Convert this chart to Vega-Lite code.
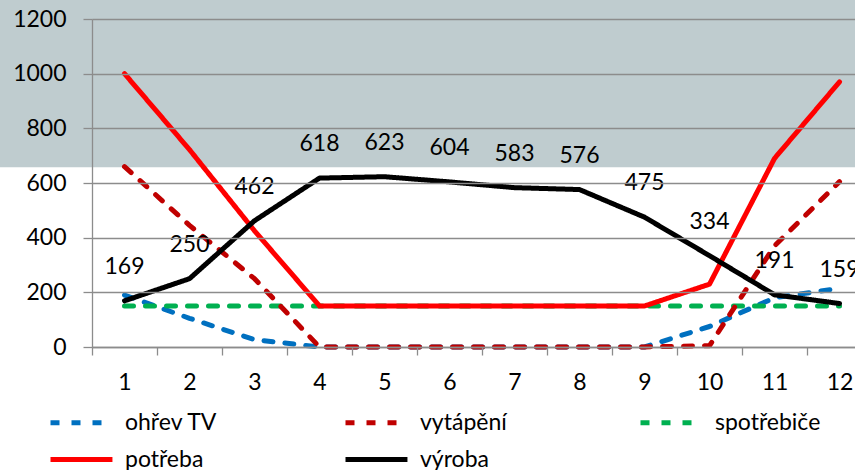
{
  "$schema": "https://vega.github.io/schema/vega-lite/v6.json",
  "width": 763,
  "height": 328,
  "autosize": {"type": "none"},
  "padding": {"left": 92, "top": 19, "right": 0, "bottom": 123},
  "background": "white",
  "config": {
    "view": {"stroke": null},
    "font": "Lato",
    "axis": {
      "gridColor": "#8C8C8C",
      "domainColor": "#8C8C8C",
      "tickColor": "#8C8C8C",
      "gridWidth": 1.3,
      "domainWidth": 1.3,
      "tickWidth": 1.3,
      "labelFont": "Lato",
      "labelFontSize": 23,
      "labelColor": "#000000"
    }
  },
  "datasets": {
    "band": [{"x1": -3, "x2": 15, "y1": 658, "y2": 1400}],
    "series": [
      {"month": 1, "serie": "ohřev TV", "value": 190},
      {"month": 2, "serie": "ohřev TV", "value": 105},
      {"month": 3, "serie": "ohřev TV", "value": 27},
      {"month": 4, "serie": "ohřev TV", "value": 0},
      {"month": 5, "serie": "ohřev TV", "value": 0},
      {"month": 6, "serie": "ohřev TV", "value": 0},
      {"month": 7, "serie": "ohřev TV", "value": 0},
      {"month": 8, "serie": "ohřev TV", "value": 0},
      {"month": 9, "serie": "ohřev TV", "value": 0},
      {"month": 10, "serie": "ohřev TV", "value": 75},
      {"month": 11, "serie": "ohřev TV", "value": 180},
      {"month": 12, "serie": "ohřev TV", "value": 215},
      {"month": 1, "serie": "spotřebiče", "value": 150},
      {"month": 2, "serie": "spotřebiče", "value": 150},
      {"month": 3, "serie": "spotřebiče", "value": 150},
      {"month": 4, "serie": "spotřebiče", "value": 150},
      {"month": 5, "serie": "spotřebiče", "value": 150},
      {"month": 6, "serie": "spotřebiče", "value": 150},
      {"month": 7, "serie": "spotřebiče", "value": 150},
      {"month": 8, "serie": "spotřebiče", "value": 150},
      {"month": 9, "serie": "spotřebiče", "value": 150},
      {"month": 10, "serie": "spotřebiče", "value": 150},
      {"month": 11, "serie": "spotřebiče", "value": 150},
      {"month": 12, "serie": "spotřebiče", "value": 150},
      {"month": 1, "serie": "vytápění", "value": 660},
      {"month": 2, "serie": "vytápění", "value": 445},
      {"month": 3, "serie": "vytápění", "value": 250},
      {"month": 4, "serie": "vytápění", "value": 0},
      {"month": 5, "serie": "vytápění", "value": 0},
      {"month": 6, "serie": "vytápění", "value": 0},
      {"month": 7, "serie": "vytápění", "value": 0},
      {"month": 8, "serie": "vytápění", "value": 0},
      {"month": 9, "serie": "vytápění", "value": 0},
      {"month": 10, "serie": "vytápění", "value": 5},
      {"month": 11, "serie": "vytápění", "value": 370},
      {"month": 12, "serie": "vytápění", "value": 605},
      {"month": 1, "serie": "potřeba", "value": 1000},
      {"month": 2, "serie": "potřeba", "value": 722},
      {"month": 3, "serie": "potřeba", "value": 425},
      {"month": 4, "serie": "potřeba", "value": 150},
      {"month": 5, "serie": "potřeba", "value": 150},
      {"month": 6, "serie": "potřeba", "value": 150},
      {"month": 7, "serie": "potřeba", "value": 150},
      {"month": 8, "serie": "potřeba", "value": 150},
      {"month": 9, "serie": "potřeba", "value": 150},
      {"month": 10, "serie": "potřeba", "value": 230},
      {"month": 11, "serie": "potřeba", "value": 690},
      {"month": 12, "serie": "potřeba", "value": 970},
      {"month": 1, "serie": "výroba", "value": 169},
      {"month": 2, "serie": "výroba", "value": 250},
      {"month": 3, "serie": "výroba", "value": 462},
      {"month": 4, "serie": "výroba", "value": 618},
      {"month": 5, "serie": "výroba", "value": 623},
      {"month": 6, "serie": "výroba", "value": 604},
      {"month": 7, "serie": "výroba", "value": 583},
      {"month": 8, "serie": "výroba", "value": 576},
      {"month": 9, "serie": "výroba", "value": 475},
      {"month": 10, "serie": "výroba", "value": 334},
      {"month": 11, "serie": "výroba", "value": 191},
      {"month": 12, "serie": "výroba", "value": 159}
    ]
  },
  "layer": [
    {
      "data": {"name": "band"},
      "mark": {"type": "rect", "color": "#BFCCCF", "clip": false},
      "encoding": {
        "x": {
          "field": "x1", "type": "quantitative", "title": null,
          "scale": {"domain": [0.5, 12.238], "nice": false, "zero": false},
          "axis": {
            "values": [0.5, 1.5, 2.5, 3.5, 4.5, 5.5, 6.5, 7.5, 8.5, 9.5, 10.5, 11.5],
            "grid": false,
            "tickSize": 8,
            "labelExpr": "datum.value + 0.5",
            "labelOffset": 32.5,
            "labelPadding": 16,
            "labelFlush": false,
            "labelOverlap": false,
            "zindex": 1
          }
        },
        "x2": {"field": "x2"},
        "y": {
          "field": "y1", "type": "quantitative", "title": null,
          "scale": {"domain": [0, 1200], "nice": false, "zero": false},
          "axis": {
            "values": [0, 200, 400, 600, 800, 1000, 1200],
            "format": "d",
            "grid": true,
            "tickSize": 9,
            "labelPadding": 17,
            "labelFlush": false,
            "labelOverlap": false,
            "zindex": 1
          }
        },
        "y2": {"field": "y2"}
      }
    },
    {
      "data": {"name": "series"},
      "transform": [{"filter": "datum.serie == 'ohřev TV' || datum.serie == 'spotřebiče' || datum.serie == 'vytápění'"}],
      "mark": {"type": "line", "strokeCap": "round", "strokeJoin": "round"},
      "encoding": {
        "x": {"field": "month", "type": "quantitative", "title": null},
        "y": {"field": "value", "type": "quantitative", "title": null},
        "color": {
          "field": "serie", "type": "nominal", "title": null,
          "scale": {"domain": ["ohřev TV", "vytápění", "spotřebiče", "potřeba", "výroba"], "range": ["#0070C0", "#C00000", "#00B050", "#FF0000", "#000000"]},
          "legend": {
            "orient": "none", "legendX": -44, "legendY": 386, "direction": "horizontal",
            "columns": 3, "gridAlign": "all", "columnPadding": 104, "rowPadding": 7,
            "symbolType": "M-1,0H3.13", "symbolSize": 900,
            "labelFont": "Lato", "labelFontSize": 23, "labelColor": "#000000",
            "labelOffset": 42, "padding": 0, "labelLimit": 300
          }
        },
        "strokeDash": {
          "field": "serie", "type": "nominal", "title": null,
          "scale": {"domain": ["ohřev TV", "vytápění", "spotřebiče", "potřeba", "výroba"], "range": [[9, 12], [9, 12], [9, 12], [1, 0], [1, 0]]}
        },
        "strokeWidth": {
          "field": "serie", "type": "nominal", "title": null,
          "scale": {"domain": ["ohřev TV", "vytápění", "spotřebiče", "potřeba", "výroba"], "range": [5, 5, 5, 7.5, 7.5]}
        }
      }
    },
    {
      "data": {"name": "series"},
      "transform": [{"filter": "datum.serie == 'potřeba' || datum.serie == 'výroba'"}],
      "mark": {"type": "line", "strokeCap": "round", "strokeJoin": "round"},
      "encoding": {
        "x": {"field": "month", "type": "quantitative", "title": null},
        "y": {"field": "value", "type": "quantitative", "title": null},
        "color": {"field": "serie", "type": "nominal", "title": null},
        "strokeDash": {"field": "serie", "type": "nominal", "title": null},
        "strokeWidth": {"field": "serie", "type": "nominal", "title": null}
      }
    },
    {
      "data": {"name": "series"},
      "transform": [{"filter": "datum.serie == 'výroba'"}],
      "mark": {"type": "text", "dy": -34, "font": "Lato", "fontSize": 23, "color": "#000000"},
      "encoding": {
        "x": {"field": "month", "type": "quantitative", "title": null},
        "y": {"field": "value", "type": "quantitative", "title": null},
        "text": {"field": "value", "type": "quantitative"}
      }
    }
  ]
}
